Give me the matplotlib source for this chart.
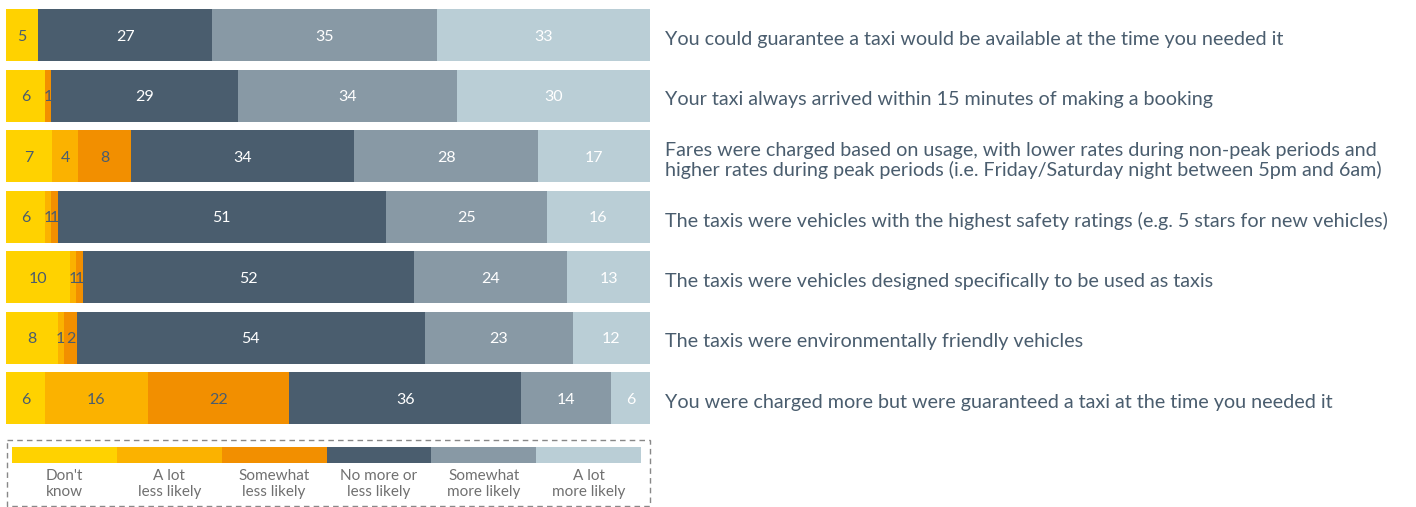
import numpy as np
import matplotlib as mpl
from matplotlib import pyplot as plt
from matplotlib.patches import Rectangle

mpl.rcParams['font.family'] = ['Lato', 'DejaVu Sans']

# data
categories = ["Don't\nknow", "A lot\nless likely", "Somewhat\nless likely",
              "No more or\nless likely", "Somewhat\nmore likely", "A lot\nmore likely"]

statements = [
    "You could guarantee a taxi would be available at the time you needed it",
    "Your taxi always arrived within 15 minutes of making a booking",
    "Fares were charged based on usage, with lower rates during non-peak periods and\n"
    "higher rates during peak periods (i.e. Friday/Saturday night between 5pm and 6am)",
    "The taxis were vehicles with the highest safety ratings (e.g. 5 stars for new vehicles)",
    "The taxis were vehicles designed specifically to be used as taxis",
    "The taxis were environmentally friendly vehicles",
    "You were charged more but were guaranteed a taxi at the time you needed it",
]

dont_know     = [5, 6, 7, 6, 10, 8, 6]
lot_less      = [0, 0, 4, 1, 1, 1, 16]
somewhat_less = [0, 1, 8, 1, 1, 2, 22]
no_change     = [27, 29, 34, 51, 52, 54, 36]
somewhat_more = [35, 34, 28, 25, 24, 23, 14]
lot_more      = [33, 30, 17, 16, 13, 12, 6]

colors = ['#FFD200', '#FBB200', '#F28F00', '#4A5D6E', '#8899A5', '#BACED6']
textColors = ['#4A5D6E', '#4A5D6E', '#4A5D6E', 'white', 'white', 'white']
labelColor = '#4A5D6E'

W, H = 1416, 507
f = plt.figure(figsize = (W / 100, H / 100), dpi = 100)

def pxAxes(x0, y0, x1, y1):
    return f.add_axes([x0 / W, 1 - y1 / H, (x1 - x0) / W, (y1 - y0) / H])

##########################################################################################
# stacked bars
ax = pxAxes(6, 9, 650, 424)
series = np.array([dont_know, lot_less, somewhat_less, no_change, somewhat_more, lot_more],
                  dtype = float)
totals = series.sum(axis = 0)
shares = series / totals * 100.0
ypos = np.arange(len(statements))
barH = 52.0 / 60.5

left = np.zeros(len(statements))
for k in range(len(categories)):
    ax.barh(ypos, shares[k], left = left, height = barH, color = colors[k], lw = 0)
    for i in range(len(statements)):
        v = series[k, i]
        if v > 0:
            ax.text(left[i] + shares[k, i] / 2.0, ypos[i] + 0.03, '%d' % v,
                    ha = 'center', va = 'center', fontsize = 11.5,
                    color = textColors[k])
    left += shares[k]

for i, s in enumerate(statements):
    ax.text(102.3, ypos[i] + 0.07, s, ha = 'left', va = 'center', fontsize = 14.2,
            color = labelColor, linespacing = 1.1, clip_on = False)

ax.set_xlim(0, 100)
ax.set_ylim(len(statements) - 1 + barH / 2, -barH / 2)
ax.axis('off')

##########################################################################################
# legend
lax = pxAxes(0, 0, W, H)
lax.set_xlim(0, W)
lax.set_ylim(H, 0)
lax.axis('off')
lax.add_patch(Rectangle((6.5, 440), 643, 66, fill = False, ec = '#888888',
                        lw = 1.0, ls = (0, (4, 3))))
segW = (641 - 12) / len(categories)
for k, c in enumerate(categories):
    x0 = 12 + k * segW
    lax.add_patch(Rectangle((x0, 447), segW, 16, color = colors[k], lw = 0))
    lax.text(x0 + segW / 2, 484, c, ha = 'center', va = 'center', fontsize = 11,
             color = '#707070', linespacing = 1.15)

f.savefig('out.png', dpi = 100)
